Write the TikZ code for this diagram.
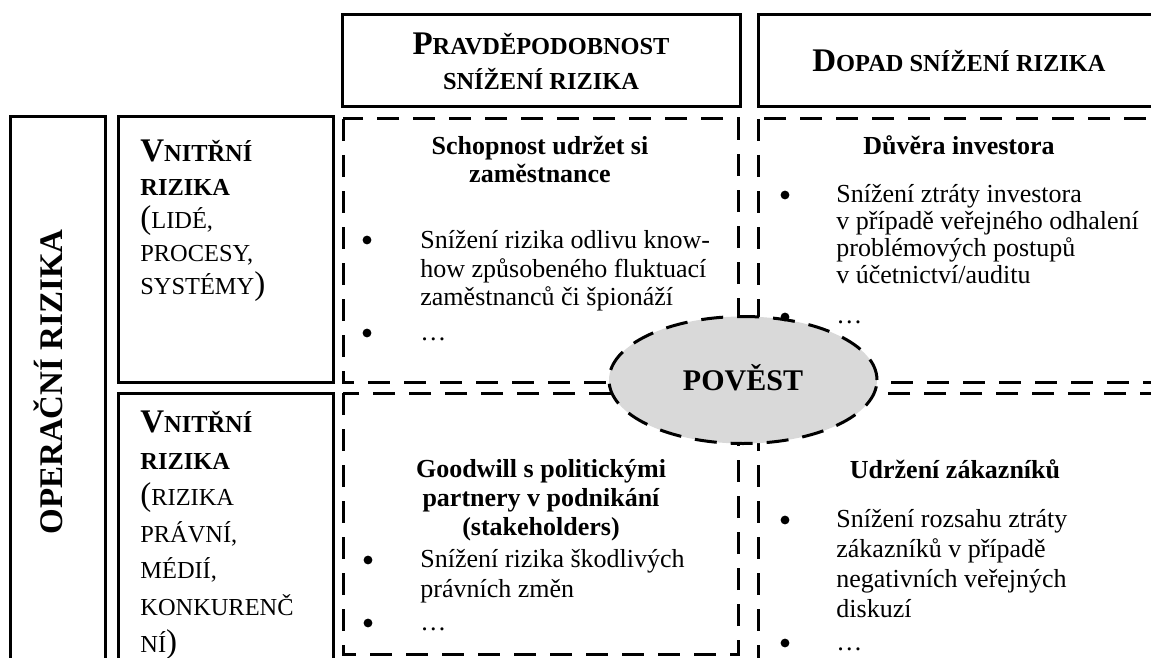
\documentclass[tikz,border=0pt]{standalone}
\usepackage{fontspec}
\setmainfont{Liberation Serif}
\usetikzlibrary{shapes.geometric}
\definecolor{ellfill}{HTML}{D9D9D9}
\newcommand{\BC}[1]{{\fontsize{16.5}{18}\selectfont #1}}
\tikzset{
  solidbox/.style={line width=1.5pt},
  dashbox/.style={line width=1.5pt, dash pattern=on 11pt off 7pt},
  body/.style={inner sep=0pt, anchor=base west, font=\fontsize{13}{15}\selectfont},
  bulc/.style={circle, fill=black, inner sep=0pt, minimum size=4.4pt},
  bhead/.style={inner sep=0pt, anchor=base, font=\bfseries\fontsize{13}{15}\selectfont},
  sc/.style={inner sep=0pt, anchor=base west, font=\fontsize{12.2}{14}\selectfont},
  scb/.style={inner sep=0pt, anchor=base west, font=\bfseries\fontsize{12.2}{14}\selectfont},
}
\begin{document}
\begin{tikzpicture}[x=0.5pt,y=-0.5pt]
\useasboundingbox (0,0) rectangle (1151,658);
\clip (0,0) rectangle (1151,658);
% header boxes
\draw[solidbox] (342,15) rectangle (740,107);
\draw[solidbox] (758,15) rectangle (1170,107);
% left boxes
\draw[solidbox] (10,117) rectangle (105,690);
\draw[solidbox] (118,117) rectangle (333,382);
\draw[solidbox] (118,393) rectangle (333,690);
% dashed cells
\draw[dashbox] (343,119) rectangle (738,382);
\draw[dashbox] (758,119) rectangle (1175,382);
\draw[dashbox] (343,393) rectangle (738,654);
\draw[dashbox] (758,393) rectangle (1175,700);
% ellipse
\node[ellipse, draw, fill=ellfill, dashbox, minimum width=134pt, minimum height=63.5pt, inner sep=0pt,
      font=\bfseries\fontsize{15}{17}\selectfont, text height=10pt, text depth=0pt] (povest) at (743,380) {POVĚST};
% headers
\node[scb, anchor=base] (h1a) at (541,55) {\BC{P}RAVDĚPODOBNOST};
\node[scb, anchor=base] (h1b) at (541,90) {SNÍŽENÍ RIZIKA};
\node[scb, anchor=base] (h2) at (959,72) {\BC{D}OPAD SNÍŽENÍ RIZIKA};
% vertical title
\node[inner sep=0pt, rotate=90, anchor=base, font=\bfseries\fontsize{16.5}{18}\selectfont] (op) at (62,382) {OPERAČNÍ RIZIKA};
% left box 1
\node[scb] (a1) at (140,162) {\BC{V}NITŘNÍ};
\node[scb] (a2) at (140,195) {RIZIKA};
\node[sc] (a3) at (140,228) {\BC{(}LIDÉ,};
\node[sc] (a4) at (140,261) {PROCESY,};
\node[sc] (a5) at (140,294) {SYSTÉMY\BC{)}};
% left box 2
\node[scb] (b1) at (140,432) {\BC{V}NITŘNÍ};
\node[scb] (b2) at (140,469) {RIZIKA};
\node[sc] (b3) at (140,505) {\BC{(}RIZIKA};
\node[sc] (b4) at (140,542) {PRÁVNÍ,};
\node[sc] (b5) at (140,578) {MÉDIÍ,};
\node[sc] (b6) at (140,615) {KONKURENČ};
\node[sc] (b7) at (140,652) {NÍ\BC{)}};
% top-middle cell
\node[bhead] (c1) at (540,155) {Schopnost udržet si};
\node[bhead] (c2) at (540,183) {zaměstnance};
\node[bulc] (cb1) at (367,240) {};
\node[body] (c3) at (420,248) {Snížení rizika odlivu know-};
\node[body] (c4) at (420,277) {how způsobeného fluktuací};
\node[body] (c5) at (420,305) {zaměstnanců či špionáží};
\node[bulc] (cb2) at (367,333) {};
\node[body] (c6) at (420,340) {…};
% top-right cell
\node[bhead] (d1) at (959,155) {Důvěra investora};
\node[bulc] (db1) at (785,195) {};
\node[body] (d2) at (836,202) {Snížení ztráty investora};
\node[body] (d3) at (836,229) {v případě veřejného odhalení};
\node[body] (d4) at (836,256) {problémových postupů};
\node[body] (d5) at (836,283) {v účetnictví/auditu};
\node[bulc] (db2) at (785,317) {};
\node[body] (d6) at (836,323) {…};
% bottom-middle cell
\node[bhead] (e1) at (541,477) {Goodwill s politickými};
\node[bhead] (e2) at (541,506) {partnery v podnikání};
\node[bhead] (e3) at (541,535) {(stakeholders)};
\node[bulc] (eb1) at (368,560) {};
\node[body] (e4) at (420,567) {Snížení rizika škodlivých};
\node[body] (e5) at (420,597) {právních změn};
\node[bulc] (eb2) at (368,623) {};
\node[body] (e6) at (420,630) {…};
% bottom-right cell
\node[bhead] (f1) at (955,478) {Udržení zákazníků};
\node[bulc] (fb1) at (785,520) {};
\node[body] (f2) at (836,527) {Snížení rozsahu ztráty};
\node[body] (f3) at (836,557) {zákazníků v případě};
\node[body] (f4) at (836,587) {negativních veřejných};
\node[body] (f5) at (836,617) {diskuzí};
\node[bulc] (fb2) at (785,643) {};
\node[body] (f6) at (836,650) {…};
\end{tikzpicture}
\end{document}
